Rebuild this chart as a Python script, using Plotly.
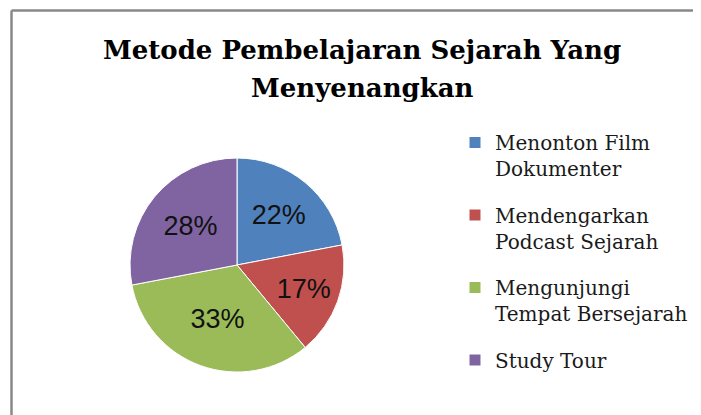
import plotly.graph_objects as go

title_lines = ["Metode Pembelajaran Sejarah Yang", "Menyenangkan"]
categories = ["Menonton Film Dokumenter", "Mendengarkan Podcast Sejarah",
              "Mengunjungi Tempat Bersejarah", "Study Tour"]
legend_labels = ["Menonton Film<br>Dokumenter", "Mendengarkan<br>Podcast Sejarah",
                 "Mengunjungi<br>Tempat Bersejarah", "Study Tour"]
values = [22, 17, 33, 28]
colors = ["#4F81BD", "#C0504D", "#9BBB59", "#8064A2"]

W, H = 701, 415

fig = go.Figure()
fig.add_trace(go.Pie(
    labels=categories, values=values, sort=False, direction="clockwise",
    rotation=0, marker=dict(colors=colors, line=dict(color="white", width=1)),
    textinfo="percent", texttemplate="%{percent:.0%}", textposition="inside",
    insidetextorientation="horizontal",
    textfont=dict(family="Liberation Sans", size=27, color="#111111"),
    domain=dict(x=[122 / W, 336 / W], y=[1 - 364 / H, 1 - 150 / H]),
    showlegend=False, hoverinfo="label+percent",
))

# legend entries (one group each so the gap between them can be set)
for i, (lab, c) in enumerate(zip(legend_labels, colors)):
    fig.add_trace(go.Scatter(
        x=[None], y=[None], mode="markers", name=lab, legendgroup=str(i),
        marker=dict(symbol="square", size=11, color=c), hoverinfo="skip",
    ))

title_y = [42, 80]
annotations = [dict(
    text=t, x=354 / W, y=1 - yy / H,
    xref="paper", yref="paper", xanchor="center", yanchor="middle",
    showarrow=False,
    font=dict(family="DejaVu Serif", size=26, color="black", weight="bold"),
) for t, yy in zip(title_lines, title_y)]

fig.update_layout(
    width=W, height=H, margin=dict(l=0, r=0, t=0, b=0),
    paper_bgcolor="white", plot_bgcolor="white",
    xaxis=dict(visible=False), yaxis=dict(visible=False),
    legend=dict(x=447 / W, y=1 - 115 / H, xanchor="left", yanchor="top",
                font=dict(family="DejaVu Serif", size=20, color="#1a1a1a"),
                valign="top", tracegroupgap=17.5, bgcolor="rgba(0,0,0,0)"),
    annotations=annotations,
    shapes=[
        dict(type="line", xref="paper", yref="paper", x0=3.5 / W, x1=1.05,
             y0=1 - 2.5 / H, y1=1 - 2.5 / H, line=dict(color="#888888", width=2.5)),
        dict(type="line", xref="paper", yref="paper", x0=3.5 / W, x1=3.5 / W,
             y0=1 - 2.5 / H, y1=-0.05, line=dict(color="#888888", width=2.5)),
    ],
)

fig.write_html("out.html")
